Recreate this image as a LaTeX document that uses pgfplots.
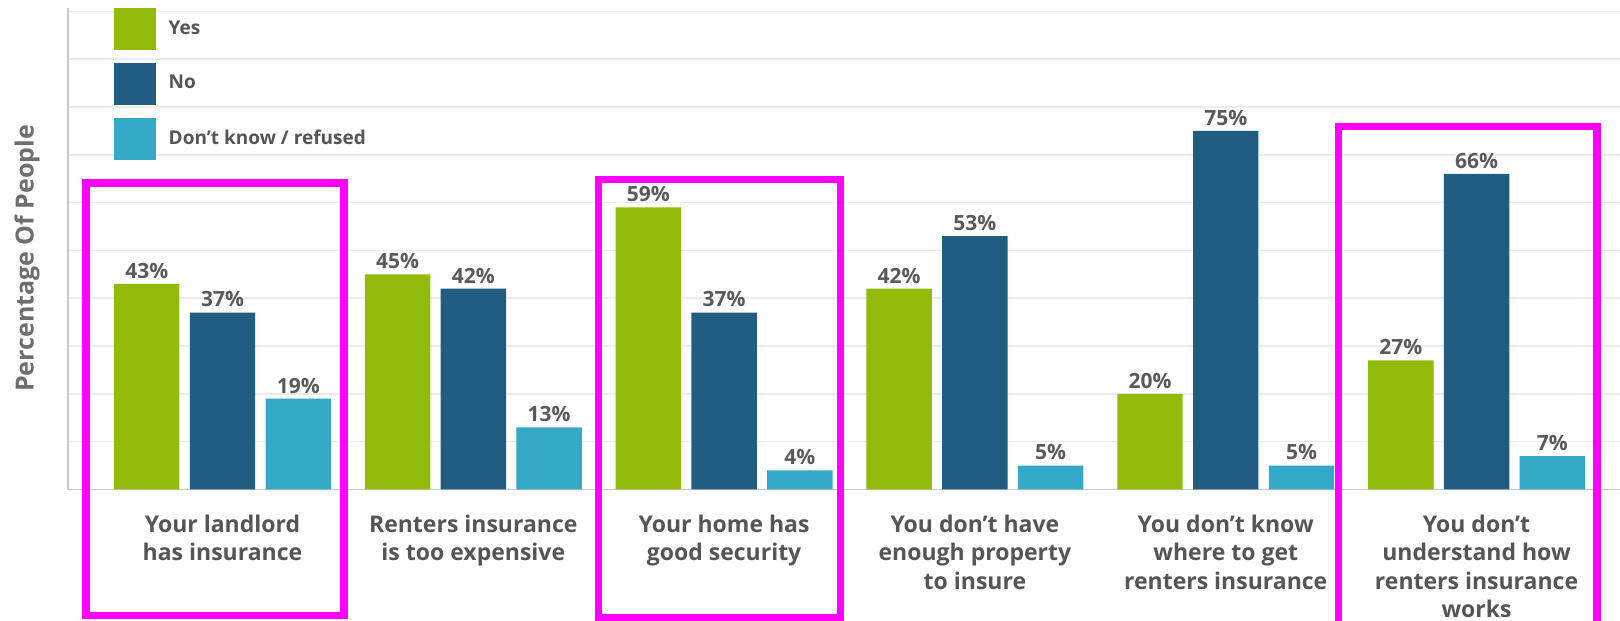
\documentclass[border=0pt]{standalone}
\usepackage{fontspec}
\setmainfont{Open Sans}
\usepackage{pgfplots}
\pgfplotsset{compat=1.18}
\definecolor{yesc}{RGB}{146,187,12}
\definecolor{noc}{RGB}{33,93,128}
\definecolor{dkc}{RGB}{52,168,199}
\definecolor{labgray}{RGB}{85,85,85}
\definecolor{valgray}{RGB}{90,90,90}
\definecolor{ylabgray}{RGB}{110,110,110}
\definecolor{axisgray}{RGB}{200,200,200}
\definecolor{gridgray}{RGB}{236,236,236}
\definecolor{magc}{RGB}{255,0,255}
\begin{document}
\begin{tikzpicture}
\begin{axis}[name=ax, scale only axis, width=776pt, height=240.75pt,
  xmin=-0.616, xmax=5.572, ymin=0, ymax=100.7,
  axis x line*=bottom, axis y line*=left,
  axis line style={draw=axisgray, line width=0.9pt},
  ytick={10,20,...,100}, yticklabels={},
  ymajorgrids, grid style={draw=gridgray, line width=0.8pt},
  xtick={0,1,2,3,4,5},
  xticklabels={{Your landlord\\has insurance},{Renters insurance\\is too expensive},{Your home has\\good security},{You don't have\\enough property\\to insure},{You don't know\\where to get\\renters insurance},{You don't\\understand how\\renters insurance\\works}},
  major tick length=0pt,
  xticklabel style={align=center, font=\bfseries\fontsize{11.5}{14.2}\selectfont, text=labgray, anchor=north, inner sep=0pt, yshift=-12.5pt},
  ybar, bar width=0.261,
  nodes near coords={\pgfmathprintnumber{\pgfplotspointmeta}\%},
  every node near coord/.append style={font=\bfseries\fontsize{10.5}{12}\selectfont, text=valgray, inner sep=2.5pt, anchor=south},
  /pgf/number format/assume math mode=true,
  ylabel={Percentage Of People},
  ylabel style={at={(axis description cs:-0.0264,0.48)}, anchor=center, font=\bfseries\fontsize{12.5}{14}\selectfont, text=ylabgray},
  clip=false,
  legend style={at={(rel axis cs:0.0296,1)}, anchor=north west, draw=none, fill=none, inner sep=0pt, outer sep=0pt, row sep=6.5pt, column sep=6.5pt, font=\bfseries\fontsize{9.5}{11}\selectfont, text=labgray, nodes={inner sep=0pt, outer sep=0pt}},
  legend cell align=left,
]
\addlegendimage{legend image code/.code={\fill[yesc] (0pt,-10.25pt) rectangle (20.5pt,10.25pt);}}
\addlegendentry{Yes}
\addlegendimage{legend image code/.code={\fill[noc] (0pt,-10.25pt) rectangle (20.5pt,10.25pt);}}
\addlegendentry{No}
\addlegendimage{legend image code/.code={\fill[dkc] (0pt,-10.25pt) rectangle (20.5pt,10.25pt);}}
\addlegendentry{Don't know / refused}
\addplot[bar shift=-0.302, fill=yesc, draw=none, forget plot] coordinates {(0,43) (1,45) (2,59) (3,42) (4,20) (5,27)};
\addplot[bar shift=0, fill=noc, draw=none, forget plot] coordinates {(0,37) (1,42) (2,37) (3,53) (4,75) (5,66)};
\addplot[bar shift=0.302, fill=dkc, draw=none, forget plot] coordinates {(0,19) (1,13) (2,4) (3,5) (4,5) (5,7)};
\draw[magc, line width=3.65pt] (axis cs:-0.544,64.1) rectangle (axis cs:0.484,-26.3);
\draw[magc, line width=3.65pt] (axis cs:1.499,64.8) rectangle (axis cs:2.464,-26.8);
\draw[magc, line width=3.65pt] (axis cs:4.449,75.9) rectangle (axis cs:5.480,-28.3);
\end{axis}
\pgfresetboundingbox
\path[use as bounding box] ([shift={(-34pt,-65.75pt)}]ax.south west) rectangle ([shift={(0pt,4pt)}]ax.north east);
\end{tikzpicture}
\end{document}
